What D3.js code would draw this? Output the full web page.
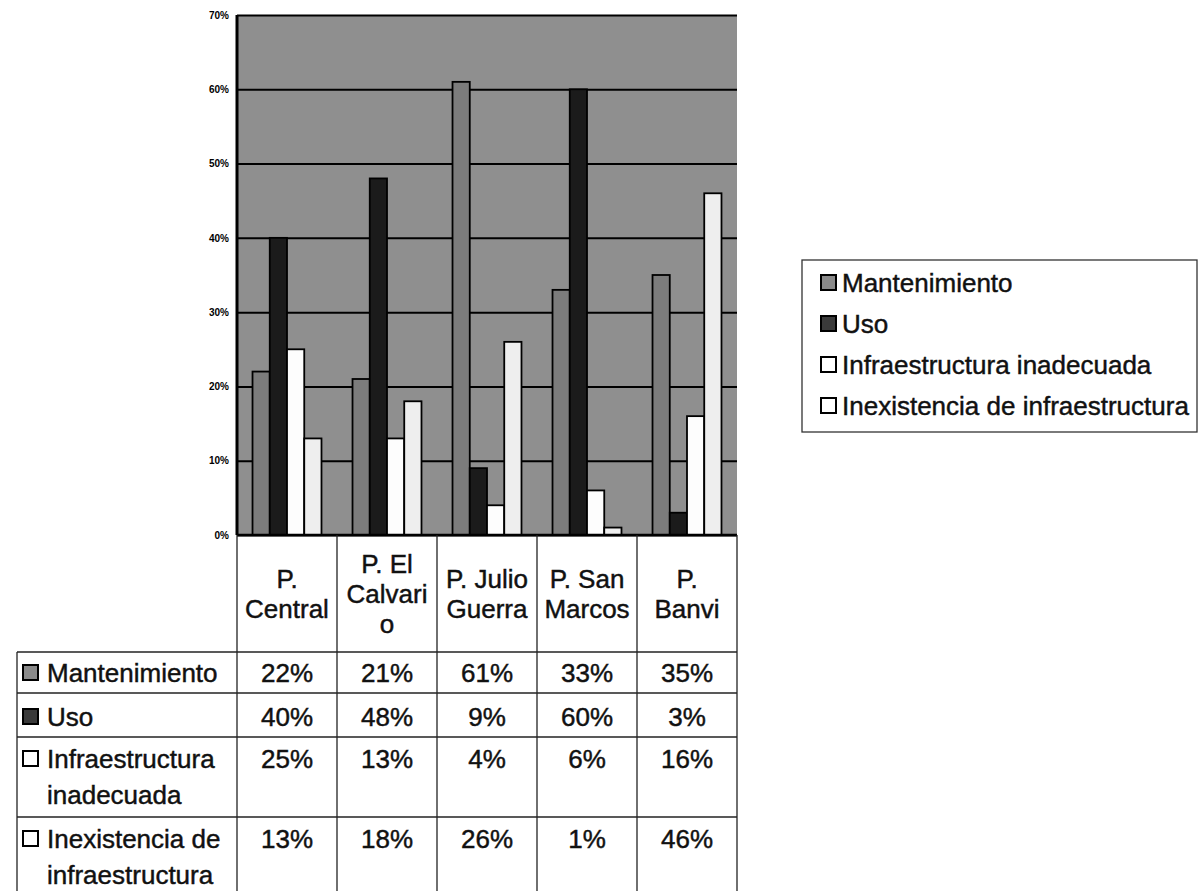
<!DOCTYPE html>
<html>
<head>
<meta charset="utf-8">
<script src="https://cdn.jsdelivr.net/npm/d3@7/dist/d3.min.js"></script>
<style>
  html, body { margin: 0; padding: 0; background: #fff; }
  svg text { font-family: "Liberation Sans", Arial, sans-serif; }
</style>
</head>
<body>
<svg id="chart" width="1199" height="891"></svg>
<script>
// ---- data ----
const categories = ["P. Central", "P. El Calvario", "P. Julio Guerra", "P. San Marcos", "P. Banvi"];
const categoryLines = [["P.", "Central"], ["P. El", "Calvari", "o"], ["P. Julio", "Guerra"], ["P. San", "Marcos"], ["P.", "Banvi"]];
const seriesNames = ["Mantenimiento", "Uso", "Infraestructura inadecuada", "Inexistencia de infraestructura"];
const seriesRowLines = [["Mantenimiento"], ["Uso"], ["Infraestructura", "inadecuada"], ["Inexistencia de", "infraestructura"]];
const mantenimiento = [0.22, 0.21, 0.61, 0.33, 0.35];
const uso = [0.40, 0.48, 0.09, 0.60, 0.03];
const infraInadecuada = [0.25, 0.13, 0.04, 0.06, 0.16];
const inexistencia = [0.13, 0.18, 0.26, 0.01, 0.46];
const yTicks = [0, 0.1, 0.2, 0.3, 0.4, 0.5, 0.6, 0.7];

const seriesValues = [mantenimiento, uso, infraInadecuada, inexistencia];
const seriesFill = ["#7c7c7c", "#1b1b1b", "#fdfdfd", "#eeeeee"];
const swatchFill = ["#8a8a8a", "#3a3a3a", "#ffffff", "#ffffff"];

// ---- layout ----
const svg = d3.select("#chart");
const plot = { left: 237, right: 737, top: 15, bottom: 535 };
const tableLeft = 17;
const headerBottom = 652;
const rowBounds = [652, 693, 737, 817];
const fontSize = 26;
const textStyle = sel => sel.attr("font-size", fontSize).attr("fill", "#111")
  .attr("stroke", "#111").attr("stroke-width", 0.45);

const x0 = d3.scaleBand().domain(categories).range([plot.left, plot.right]).padding(0);
const x1 = d3.scaleBand().domain(seriesNames).range([0, x0.bandwidth()]).paddingInner(0).paddingOuter(0.9);
const y = d3.scaleLinear().domain([0, 0.7]).range([plot.bottom, plot.top]);

// plot background
svg.append("rect")
  .attr("x", plot.left).attr("y", plot.top)
  .attr("width", plot.right - plot.left).attr("height", plot.bottom - plot.top)
  .attr("fill", "#8f8f8f");

// gridlines + y labels via axis
const yAxis = d3.axisLeft(y).tickValues(yTicks).tickFormat(d3.format(".0%"))
  .tickSize(-(plot.right - plot.left)).tickPadding(8);
const gy = svg.append("g").attr("transform", `translate(${plot.left},0)`).call(yAxis);
gy.select(".domain").remove();
gy.selectAll(".tick line").attr("stroke", "#000").attr("stroke-width", 2);
gy.selectAll(".tick text").attr("font-size", 10).attr("font-weight", "bold").attr("fill", "#000")
  .attr("font-family", "'Liberation Sans', Arial, sans-serif");

// bars
const groups = svg.append("g").selectAll("g")
  .data(categories).join("g")
  .attr("transform", d => `translate(${x0(d)},0)`);
groups.selectAll("rect")
  .data((c, ci) => seriesNames.map((s, si) => ({ s, si, v: seriesValues[si][ci] })))
  .join("rect")
  .attr("x", d => x1(d.s))
  .attr("width", x1.bandwidth())
  .attr("y", d => y(d.v))
  .attr("height", d => y(0) - y(d.v))
  .attr("fill", d => seriesFill[d.si])
  .attr("stroke", "#000")
  .attr("stroke-width", 1.8);

// axis lines
svg.append("line").attr("x1", plot.left).attr("x2", plot.left).attr("y1", plot.top).attr("y2", plot.bottom)
  .attr("stroke", "#000").attr("stroke-width", 3);
svg.append("line").attr("x1", plot.left).attr("x2", plot.right).attr("y1", plot.bottom).attr("y2", plot.bottom)
  .attr("stroke", "#000").attr("stroke-width", 2.5);

// ---- data table ----
const tbl = svg.append("g");
const lineStyle = sel => sel.attr("stroke", "#222").attr("stroke-width", 1.3);

const colEdges = categories.map(c => x0(c)).concat([x0(categories[categories.length - 1]) + x0.bandwidth()]);
colEdges.forEach(x => {
  tbl.append("line").attr("x1", x).attr("x2", x).attr("y1", plot.bottom).attr("y2", 891).call(lineStyle);
});
tbl.append("line").attr("x1", tableLeft).attr("x2", tableLeft).attr("y1", headerBottom).attr("y2", 891).call(lineStyle);
rowBounds.forEach(yy => {
  tbl.append("line").attr("x1", tableLeft).attr("x2", plot.right).attr("y1", yy).attr("y2", yy).call(lineStyle);
});

// header labels (one text element per line)
const headerMid = (plot.bottom + headerBottom) / 2;
const headerLH = 30;
categories.forEach((c, ci) => {
  const lines = categoryLines[ci];
  const cx = x0(c) + x0.bandwidth() / 2;
  const startBase = headerMid - (lines.length - 1) * headerLH / 2 + fontSize * 0.36;
  lines.forEach((ln, li) => {
    tbl.append("text").attr("text-anchor", "middle").call(textStyle)
      .attr("x", cx).attr("y", startBase + li * headerLH).text(ln);
  });
});

// rows
const rowFirstBase = [682, 726, 768, 848];
const rowLH = 36;
seriesNames.forEach((s, si) => {
  const base = rowFirstBase[si];
  tbl.append("rect").attr("x", 23).attr("y", base - 17).attr("width", 15).attr("height", 15)
    .attr("fill", swatchFill[si]).attr("stroke", "#000").attr("stroke-width", 2);
  seriesRowLines[si].forEach((ln, li) => {
    tbl.append("text").call(textStyle).attr("x", 47).attr("y", base + li * rowLH).text(ln);
  });
  categories.forEach((c, ci) => {
    tbl.append("text").attr("text-anchor", "middle").call(textStyle)
      .attr("x", x0(c) + x0.bandwidth() / 2).attr("y", base)
      .text(d3.format(".0%")(seriesValues[si][ci]));
  });
});

// ---- legend ----
const legend = { left: 802, top: 260, right: 1197, bottom: 432 };
const lg = svg.append("g");
lg.append("rect").attr("x", legend.left).attr("y", legend.top)
  .attr("width", legend.right - legend.left).attr("height", legend.bottom - legend.top)
  .attr("fill", "#fff").attr("stroke", "#333").attr("stroke-width", 1.3);
const legendBase = [292, 333, 374, 415];
seriesNames.forEach((s, si) => {
  const b = legendBase[si];
  lg.append("rect").attr("x", 821).attr("y", b - 17).attr("width", 15).attr("height", 15)
    .attr("fill", swatchFill[si]).attr("stroke", "#000").attr("stroke-width", 2);
  lg.append("text").attr("x", 842).attr("y", b).call(textStyle).text(s);
});
</script>
</body>
</html>
